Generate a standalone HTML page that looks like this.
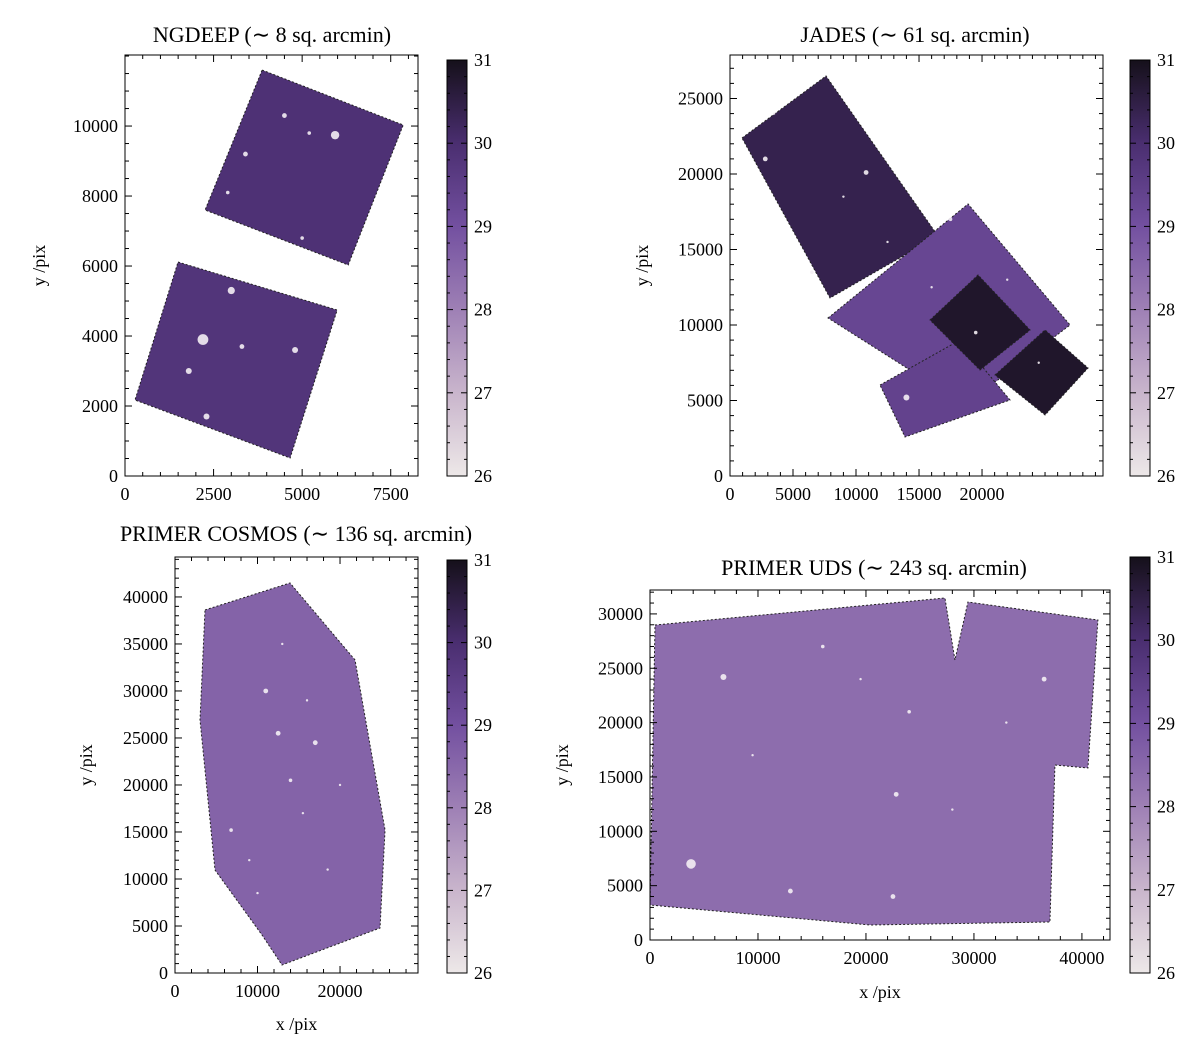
<!DOCTYPE html>
<html><head><meta charset="utf-8">
<style>
html,body{margin:0;padding:0;background:#fff;}
svg{display:block;font-family:"Liberation Serif",serif;}
</style></head>
<body>
<svg id="fig" width="1200" height="1058" viewBox="0 0 1200 1058"></svg>
<script>
// ---------- data ----------
const cbarTicks = [26,27,28,29,30,31];
const ngdeepXTicks = [0,2500,5000,7500];
const ngdeepYTicks = [0,2000,4000,6000,8000,10000];
const jadesXTicks = [0,5000,10000,15000,20000];
const jadesYTicks = [0,5000,10000,15000,20000,25000];
const cosmosXTicks = [0,10000,20000];
const cosmosYTicks = [0,5000,10000,15000,20000,25000,30000,35000,40000];
const udsXTicks = [0,10000,20000,30000,40000];
const udsYTicks = [0,5000,10000,15000,20000,25000,30000];

const ngdeepFootprints = [
  {depth:29.9, pts:[[3870,11600],[7853,10030],[6300,6030],[2260,7600]]},
  {depth:29.8, pts:[[1497,6114],[5989,4743],[4661,514],[282,2171]]}
];
const ngdeepStars = [[2200,3900,9],[5930,9740,7],[1800,3000,5],[4800,3600,5],[3400,9200,4],[4500,10300,4],[5200,9800,3],[2900,8100,3],[5000,6800,3],[3000,5300,6],[2300,1700,5],[3300,3700,4]];

const jadesFootprints = [
  {depth:30.4, pts:[[952,22384],[7619,26490],[16508,15894],[7937,11788]]},
  {depth:29.3, pts:[[7778,10464],[18889,18013],[26984,10000],[18651,4702]]},
  {depth:29.4, pts:[[11905,6026],[18254,9007],[22222,5033],[13889,2583]]},
  {depth:30.8, pts:[[15873,10331],[19683,13311],[23810,9669],[19841,7020]]},
  {depth:30.8, pts:[[21032,6689],[25000,9669],[28413,7152],[25000,4040]]}
];
const jadesStars = [[14000,5200,5],[2800,21000,4],[10800,20100,4],[6500,13500,3],[17500,17000,3],[19500,9500,3],[9000,18500,2],[12500,15500,2],[22000,13000,2],[24500,7500,2],[3500,24000,2],[16000,12500,2]];

const cosmosFootprints = [
  {depth:28.6, pts:[[3636,38617],[13939,41489],[21818,33298],[25455,15213],[24848,4787],[12970,851],[10545,4043],[4848,10957],[3030,26915]]}
];
const cosmosStars = [[11000,30000,4],[12500,25500,4],[17000,24500,4],[6800,15200,3],[14000,20500,3],[15500,17000,2],[9000,12000,2],[18500,11000,2],[16000,29000,2],[13000,35000,2],[20000,20000,2],[10000,8500,2]];

const udsFootprints = [
  {depth:28.4, pts:[[463,28979],[27315,31463],[28241,25759],[29444,31094],[41481,29439],[40556,15823],[37500,16099],[37037,1656],[20370,1380],[0,3220]]}
];
const udsStars = [[3800,7000,8],[6800,24200,5],[36500,24000,4],[22800,13400,4],[22500,4000,4],[13000,4500,4],[24000,21000,3],[16000,27000,3],[19500,24000,2],[28000,12000,2],[9500,17000,2],[33000,20000,2]];

// ---------- layout ----------
const panels = [
  {name:'ngdeep', title:'NGDEEP (∼ 8 sq. arcmin)', tx:272, ty:42,
   L:125,R:418,T:55,B:476, xmax:8270, ymax:12030,
   xt:ngdeepXTicks, yt:ngdeepYTicks, xminor:500, yminor:500,
   fp:ngdeepFootprints, st:ngdeepStars, ylab:45, xlab:null,
   cb:{L:447,R:467,T:60,B:476}},
  {name:'jades', title:'JADES (∼ 61 sq. arcmin)', tx:915, ty:42,
   L:730,R:1103,T:55,B:476, xmax:29600, ymax:27880,
   xt:jadesXTicks, yt:jadesYTicks, xminor:1000, yminor:1000,
   fp:jadesFootprints, st:jadesStars, ylab:648, xlab:null,
   cb:{L:1130,R:1150,T:60,B:476}},
  {name:'primer-cosmos', title:'PRIMER COSMOS (∼ 136 sq. arcmin)', tx:296, ty:541,
   L:175,R:418,T:557,B:973, xmax:29450, ymax:44250,
   xt:cosmosXTicks, yt:cosmosYTicks, xminor:2000, yminor:1000,
   fp:cosmosFootprints, st:cosmosStars, ylab:92, xlab:1030,
   cb:{L:447,R:467,T:560,B:973}},
  {name:'primer-uds', title:'PRIMER UDS (∼ 243 sq. arcmin)', tx:874, ty:575,
   L:650,R:1110,T:590,B:940, xmax:42600, ymax:32200,
   xt:udsXTicks, yt:udsYTicks, xminor:2000, yminor:1000,
   fp:udsFootprints, st:udsStars, ylab:568, xlab:998,
   cb:{L:1130,R:1150,T:557,B:973}}
];

const NS='http://www.w3.org/2000/svg';
const svg=document.getElementById('fig');
function mk(tag,attrs,parent){const e=document.createElementNS(NS,tag);for(const k in attrs)e.setAttribute(k,attrs[k]);(parent||svg).appendChild(e);return e;}

const cmapStops=[[26,[237,232,232]],[27,[201,181,204]],[28,[158,128,181]],[29,[115,80,160]],[30,[74,46,112]],[31,[21,16,26]]];
function cmap(v){
  for(let i=0;i<cmapStops.length-1;i++){const a=cmapStops[i],b=cmapStops[i+1];
    if(v<=b[0]){const t=(v-a[0])/(b[0]-a[0]);const c=a[1].map((x,j)=>Math.round(x+(b[1][j]-x)*t));return `rgb(${c})`;}}
  return 'rgb(21,16,26)';
}
const defs=mk('defs',{});
const grad=mk('linearGradient',{id:'cbgrad',x1:0,y1:1,x2:0,y2:0},defs);
cmapStops.forEach(s=>{mk('stop',{offset:((s[0]-26)/5*100)+'%','stop-color':`rgb(${s[1]})`},grad);});

panels.forEach(p=>{
  const g=mk('g',{});
  
  
  const sx=v=>p.L+(v/p.xmax)*(p.R-p.L);
  const sy=v=>p.B-(v/p.ymax)*(p.B-p.T);
  p.fp.forEach((f,i)=>{
    const poly=mk('polygon',{points:f.pts.map(q=>sx(q[0])+','+sy(q[1])).join(' '),fill:cmap(f.depth),stroke:'#222','stroke-width':1,'stroke-dasharray':'2,2'},g);
    
    
  });
  p.st.forEach((s,i)=>{
    const c=mk('circle',{cx:sx(s[0]),cy:sy(s[1]),r:s[2]*0.6,fill:'#f4eef4',opacity:0.9},g);
    
    
  });
  const fr=mk('rect',{x:p.L,y:p.T,width:p.R-p.L,height:p.B-p.T,fill:'none',stroke:'#000','stroke-width':1},g);
  
  
  for(let v=0;v<=p.xmax;v+=p.xminor){const X=sx(v);const maj=p.xt.includes(v);const L=maj?7:4;
    mk('line',{x1:X,y1:p.B,x2:X,y2:p.B-L,stroke:'#000'},g);mk('line',{x1:X,y1:p.T,x2:X,y2:p.T+L,stroke:'#000'},g);}
  for(let v=0;v<=p.ymax;v+=p.yminor){const Y=sy(v);const maj=p.yt.includes(v);const L=maj?7:4;
    mk('line',{x1:p.L,y1:Y,x2:p.L+L,y2:Y,stroke:'#000'},g);mk('line',{x1:p.R,y1:Y,x2:p.R-L,y2:Y,stroke:'#000'},g);}
  p.xt.forEach(v=>{const t=mk('text',{x:sx(v),y:p.B+24,'text-anchor':'middle','font-size':18},g);t.textContent=v;
    
    });
  p.yt.forEach(v=>{const t=mk('text',{x:p.L-7,y:sy(v)+6,'text-anchor':'end','font-size':18},g);t.textContent=v;
    
    });
  const tt=mk('text',{x:p.tx,y:p.ty,'text-anchor':'middle','font-size':22},g);tt.textContent=p.title;
  
  
  const yl=mk('text',{x:p.ylab,y:(p.T+p.B)/2,'text-anchor':'middle','font-size':18,transform:`rotate(-90 ${p.ylab} ${(p.T+p.B)/2})`},g);yl.textContent='y /pix';
  
  
  if(p.xlab){const xl=mk('text',{x:(p.L+p.R)/2,y:p.xlab,'text-anchor':'middle','font-size':18},g);xl.textContent='x /pix';
    
    }
  const c=p.cb;
  const cr=mk('rect',{x:c.L,y:c.T,width:c.R-c.L,height:c.B-c.T,fill:'url(#cbgrad)',stroke:'#000','stroke-width':1},g);
  
  
  const cy=v=>c.B-(v-26)/5*(c.B-c.T);
  for(let v=26;v<=31.001;v+=0.2){const Y=cy(v);const maj=Math.abs(v-Math.round(v))<0.01;const L=maj?6:3;
    mk('line',{x1:c.L,y1:Y,x2:c.L+L,y2:Y,stroke:'#000'},g);mk('line',{x1:c.R,y1:Y,x2:c.R-L,y2:Y,stroke:'#000'},g);}
  cbarTicks.forEach(v=>{const t=mk('text',{x:c.R+7,y:cy(v)+6,'font-size':18},g);t.textContent=v;
    
    });
});
</script>
</body></html>
